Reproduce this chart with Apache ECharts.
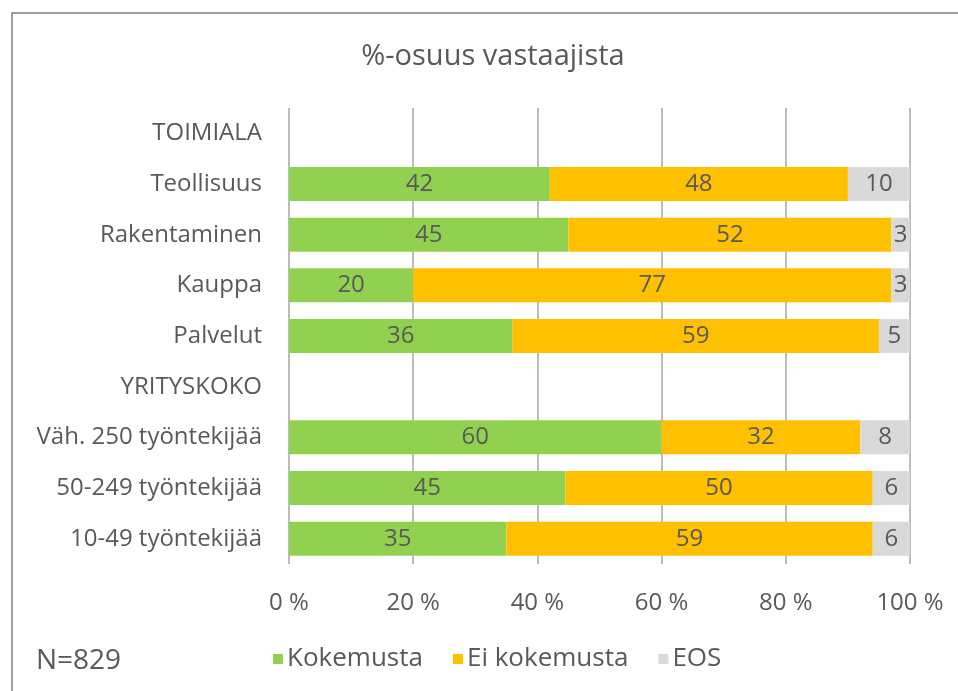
<!DOCTYPE html>
<html>
<head>
<meta charset="utf-8">
<script src="https://cdn.jsdelivr.net/npm/echarts@6/dist/echarts.min.js"></script>
<style>html,body{margin:0;padding:0;background:#fff}#c{width:958px;height:691px}</style>
</head>
<body>
<div id="c"></div>
<script>
var categories = ['TOIMIALA', 'Teollisuus', 'Rakentaminen', 'Kauppa', 'Palvelut', 'YRITYSKOKO', 'Väh. 250 työntekijää', '50-249 työntekijää', '10-49 työntekijää'];
var kokemusta = [null, 42, 45, 20, 36, null, 60, 44.5, 35];
var eiKokemusta = [null, 48, 52, 77, 59, null, 32, 49.5, 59];
var eos = [null, 10, 3, 3, 5, null, 8, 6, 6];
var xTicks = [0, 20, 40, 60, 80, 100];
var seriesNames = ['Kokemusta', 'Ei kokemusta', 'EOS'];
var colors = ['#92D050', '#FFC000', '#D9D9D9'];

var FONT = 'Open Sans';
var TXT = '#595959';

function mk(name, data, color) {
  return {
    name: name, type: 'bar', stack: 'all', data: data, barWidth: 34,
    itemStyle: { color: color },
    label: {
      show: true, position: 'inside', color: TXT, fontFamily: FONT, fontSize: 24,
      formatter: function (p) { return p.value == null ? '' : Math.round(p.value); }
    }
  };
}

var chart = echarts.init(document.getElementById('c'), null, { renderer: 'canvas' });
chart.setOption({
  animation: false,
  color: colors,
  title: {
    text: '%-osuus vastaajista', left: 488, textAlign: 'center', top: 37,
    textStyle: { color: TXT, fontFamily: FONT, fontSize: 29, fontWeight: 'normal' }
  },
  legend: {
    left: 273, top: 646, padding: 0, itemWidth: 10, itemHeight: 10, itemGap: 30,
    icon: 'rect',
    textStyle: { color: TXT, fontFamily: FONT, fontSize: 26, padding: [0, 0, 0, -1] },
    data: seriesNames
  },
  grid: { left: 289, right: 48, top: 108, bottom: 127, containLabel: false },
  xAxis: {
    type: 'value', min: xTicks[0], max: xTicks[xTicks.length - 1], interval: 20,
    axisLine: { show: false }, axisTick: { show: false },
    splitLine: { show: true, lineStyle: { color: '#a6a6a6', width: 1.5 } },
    axisLabel: { color: TXT, fontFamily: FONT, fontSize: 24, margin: 27, formatter: '{value} %' }
  },
  yAxis: {
    type: 'category', inverse: true, data: categories,
    axisLine: { show: false }, axisTick: { show: false },
    axisLabel: { color: TXT, fontFamily: FONT, fontSize: 24, margin: 27 }
  },
  graphic: [
    { type: 'rect', shape: { x: 12, y: 13, width: 3000, height: 3000 }, style: { fill: 'none', stroke: '#7f7f7f', lineWidth: 1.5 }, silent: true },
    { type: 'text', left: 36, top: 647, style: { text: 'N=829', fill: TXT, font: '28px "' + FONT + '"' } }
  ],
  series: [
    mk(seriesNames[0], kokemusta, colors[0]),
    mk(seriesNames[1], eiKokemusta, colors[1]),
    mk(seriesNames[2], eos, colors[2])
  ]
});
</script>
</body>
</html>
